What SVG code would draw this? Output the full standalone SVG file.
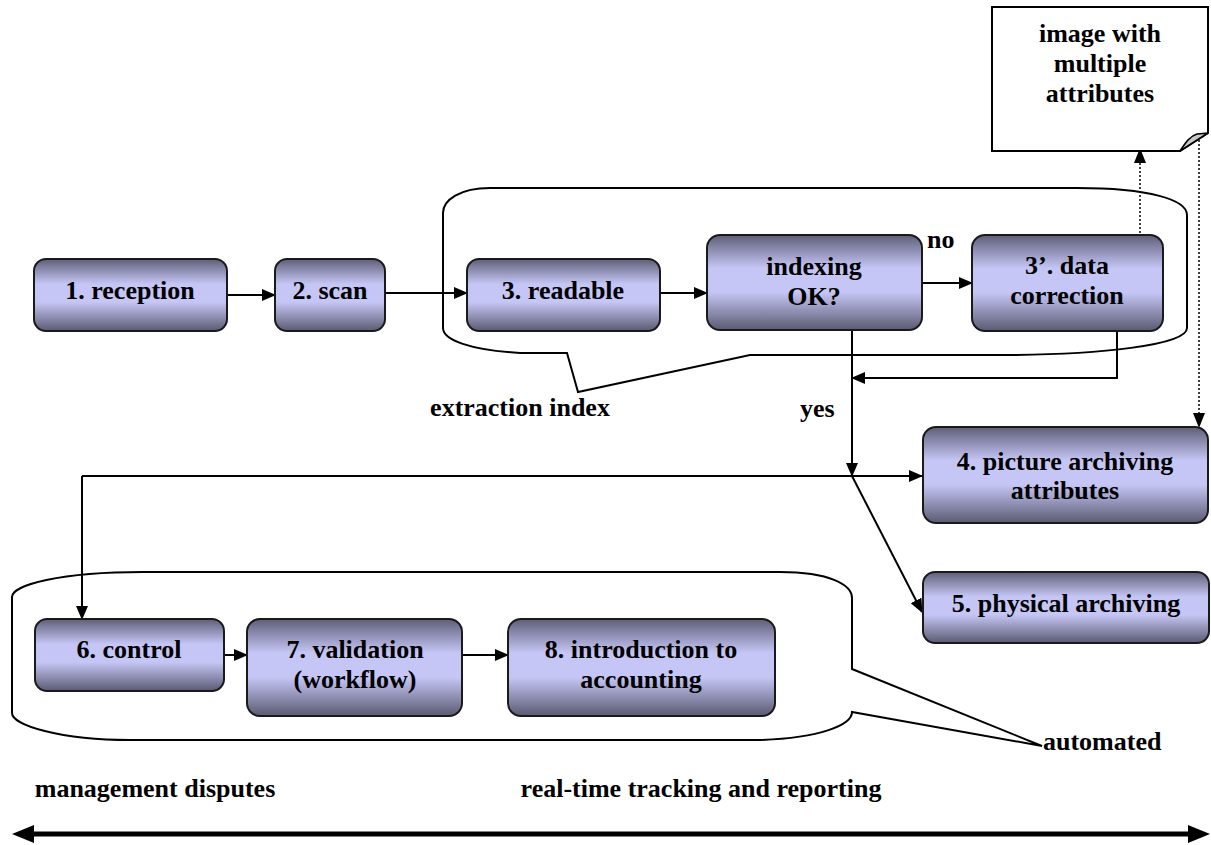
<svg xmlns="http://www.w3.org/2000/svg" width="1211" height="845" viewBox="0 0 1211 845">
<style>
.box{stroke:#1a1a1a;stroke-width:2;fill:url(#g)}
.t{text-anchor:middle}
.c{fill:none;stroke:#000;stroke-width:2}
.d{fill:none;stroke:#000;stroke-width:1.5;stroke-dasharray:2 2}
.br{fill:none;stroke:#000;stroke-width:2}
</style>
<defs>
<linearGradient id="g" x1="0" y1="0" x2="0" y2="1">
<stop offset="0" stop-color="#5e5e78"/>
<stop offset="0.35" stop-color="#c6c6f6"/>
<stop offset="0.6" stop-color="#c6c6f6"/>
<stop offset="1" stop-color="#5a5a72"/>
</linearGradient>
<marker id="a" markerUnits="userSpaceOnUse" markerWidth="14" markerHeight="12" refX="13" refY="6" orient="auto">
<path d="M0,0 L14,6 L0,12 Z" fill="#000"/>
</marker>
</defs>
<rect width="1211" height="845" fill="#fff"/>

<g id="brackets">
<path class="br" d="M490,188 L1077,188 C1150,188 1187,200 1187,215 L1187,328 C1187,345 1100,355 1000,355 L750,355 L578,392 L567,353 L520,353 C470,350 443,340 443,328 L443,213 C443,200 460,188 490,188 Z"/>
<path class="br" d="M143,572 L780,572 C830,572 852,585 852,598 L852,669 L1042,746 L852,712 C852,725 820,738 760,740 L130,740 C60,740 12,725 12,713 L12,597 C12,585 60,572 143,572 Z"/>
</g>

<g id="connectors">
<path class="c" d="M228,295 H275" marker-end="url(#a)"/>
<path class="c" d="M385,293 H467" marker-end="url(#a)"/>
<path class="c" d="M660,293 H707" marker-end="url(#a)"/>
<path class="c" d="M922,283 H972" marker-end="url(#a)"/>
<path class="c" d="M1117,331 V378 H852" marker-end="url(#a)"/>
<path class="c" d="M852,330 V476" marker-end="url(#a)"/>
<path class="c" d="M82,476 H922" marker-end="url(#a)"/>
<path class="c" d="M82,476 V619" marker-end="url(#a)"/>
<path class="c" d="M852,476 L922,612" marker-end="url(#a)"/>
<path class="c" d="M224,655 H247" marker-end="url(#a)"/>
<path class="c" d="M462,655 H508" marker-end="url(#a)"/>
<path class="d" d="M1140,245 V150"/>
<path d="M1140,148 L1146,163 L1134,163 Z" fill="#000"/>
<path class="d" d="M1199,140 V414"/>
<path d="M1199,428 L1193,413 L1205,413 Z" fill="#000"/>
</g>

<g font-family="Liberation Serif, Times New Roman, DejaVu Serif, serif" font-weight="bold" font-size="26" fill="#000">
<g id="note">
<path d="M992,7 H1208 V133 L1180,151 H992 Z" fill="#fff" stroke="#000" stroke-width="2"/>
<path d="M1180,151 C1186,142 1190,136 1197,134 C1201,133 1205,134 1208,133 Z" fill="#c8c8c8" stroke="#000" stroke-width="1.5"/>
<text class="t" x="1100" y="42">image with</text>
<text class="t" x="1100" y="72">multiple</text>
<text class="t" x="1100" y="102">attributes</text>
</g>

<g id="n1"><rect class="box" x="34" y="259" width="193" height="72" rx="12"/><text class="t" x="130" y="299">1. reception</text></g>
<g id="n2"><rect class="box" x="275" y="259" width="110" height="72" rx="12"/><text class="t" x="330" y="299">2. scan</text></g>
<g id="n3"><rect class="box" x="467" y="259" width="193" height="72" rx="12"/><text class="t" x="563" y="299">3. readable</text></g>
<g id="n_idx"><rect class="box" x="707" y="235" width="215" height="95" rx="13"/><text class="t" x="814" y="275">indexing</text><text class="t" x="814" y="305">OK?</text></g>
<g id="n3b"><rect class="box" x="972" y="235" width="191" height="96" rx="13"/><text class="t" x="1067" y="274">3’. data</text><text class="t" x="1067" y="304">correction</text></g>
<g id="n4"><rect class="box" x="923" y="427" width="285" height="96" rx="13"/><text class="t" x="1065" y="470">4. picture archiving</text><text class="t" x="1065" y="499">attributes</text></g>
<g id="n5"><rect class="box" x="923" y="572" width="286" height="71" rx="12"/><text class="t" x="1066" y="612">5. physical archiving</text></g>
<g id="n6"><rect class="box" x="35" y="619" width="189" height="72" rx="12"/><text class="t" x="129" y="658">6. control</text></g>
<g id="n7"><rect class="box" x="247" y="619" width="215" height="97" rx="13"/><text class="t" x="355" y="658">7. validation</text><text class="t" x="355" y="688">(workflow)</text></g>
<g id="n8"><rect class="box" x="508" y="619" width="267" height="97" rx="13"/><text class="t" x="641" y="658">8. introduction to</text><text class="t" x="641" y="688">accounting</text></g>

<g id="labels">
<text x="927" y="248">no</text>
<text x="800" y="417">yes</text>
<text class="t" x="520" y="416">extraction index</text>
<text x="1043" y="750">automated</text>
<text class="t" x="155" y="797">management disputes</text>
<text class="t" x="701" y="797">real-time tracking and reporting</text>
</g>
</g>

<g id="timeline">
<path d="M30,834 H1192" stroke="#000" stroke-width="5"/>
<path d="M12,834 L34,825 L34,843 Z" fill="#000"/>
<path d="M1210,834 L1188,825 L1188,843 Z" fill="#000"/>
</g>
</svg>
